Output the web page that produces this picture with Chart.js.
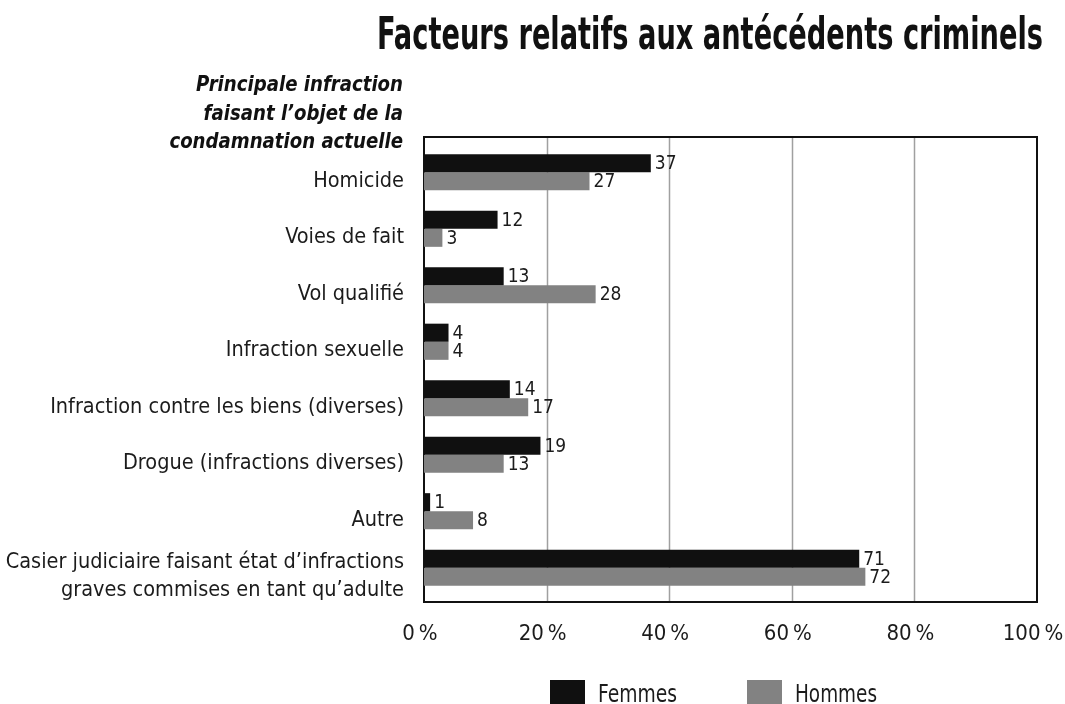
<!DOCTYPE html>
<html>
<head>
<meta charset="utf-8">
<script src="https://cdn.jsdelivr.net/npm/chart.js@4/dist/chart.umd.min.js"></script>
<style>
  html, body { margin: 0; padding: 0; background: #ffffff; }
  #wrap { width: 1065px; height: 704px; }
</style>
</head>
<body>
<div id="wrap"><canvas id="c" width="1065" height="704"></canvas></div>
<script>
const titleText = 'Facteurs relatifs aux antécédents criminels';
const subtitleLines = ['Principale infraction', 'faisant l’objet de la', 'condamnation actuelle'];
const categories = [
  'Homicide',
  'Voies de fait',
  'Vol qualifié',
  'Infraction sexuelle',
  'Infraction contre les biens (diverses)',
  'Drogue (infractions diverses)',
  'Autre',
  ['Casier judiciaire faisant état d’infractions', 'graves commises en tant qu’adulte']
];
const seriesNames = ['Femmes', 'Hommes'];
const femmes = [37, 12, 13, 4, 14, 19, 1, 71];
const hommes = [27, 3, 28, 4, 17, 13, 8, 72];
const xTickValues = [0, 20, 40, 60, 80, 100];
const seriesColors = ['#101010', '#828282'];

const FONT = '"DejaVu Sans Condensed", "Liberation Sans Narrow", "Arial Narrow", sans-serif';
const TEXT = '#1b1b1b';

const decorPlugin = {
  id: 'decor',
  beforeDatasetsDraw(chart) {
    const ctx = chart.ctx;
    const xs = chart.scales.x;
    const a = chart.chartArea;
    const top = a.top - 7, bottom = a.bottom + 6;
    ctx.save();
    ctx.strokeStyle = '#a0a0a0';
    ctx.lineWidth = 1.5;
    xTickValues.slice(1, -1).forEach(v => {
      const px = Math.round(xs.getPixelForValue(v)) + 0.5;
      ctx.beginPath();
      ctx.moveTo(px, top);
      ctx.lineTo(px, bottom);
      ctx.stroke();
    });
    ctx.strokeStyle = '#111';
    ctx.lineWidth = 2;
    ctx.strokeRect(a.left, top, a.right - a.left, bottom - top);
    ctx.restore();
  },
  afterDatasetsDraw(chart) {
    const ctx = chart.ctx;
    ctx.save();
    ctx.fillStyle = TEXT;
    ctx.font = '19px ' + FONT;
    ctx.textAlign = 'left';
    ctx.textBaseline = 'middle';
    chart.data.datasets.forEach((ds, i) => {
      const meta = chart.getDatasetMeta(i);
      meta.data.forEach((bar, j) => {
        ctx.fillText(String(ds.data[j]), bar.x + 4, bar.y + 1);
      });
    });
    // Title
    ctx.font = 'bold 44px ' + FONT;
    ctx.textAlign = 'right';
    ctx.textBaseline = 'alphabetic';
    ctx.fillStyle = '#111';
    ctx.fillText(titleText, 1043, 49, 666);
    // Subtitle (bold italic, condensed to the reference width)
    ctx.font = 'italic bold 22px ' + FONT;
    const base = ctx.measureText(subtitleLines[0]).width;
    const sx = 207 / base;
    [91, 119.5, 148].forEach((y, k) => {
      ctx.save();
      ctx.textAlign = 'right';
      ctx.translate(403, y);
      ctx.scale(sx, 1);
      ctx.fillText(subtitleLines[k], 0, 0);
      ctx.restore();
    });
    // Legend
    ctx.font = '24px ' + FONT;
    ctx.textAlign = 'left';
    const legendX = [550, 747];
    const legendW = [79, 82];
    chart.data.datasets.forEach((ds, i) => {
      const lx = legendX[i];
      ctx.fillStyle = ds.backgroundColor;
      ctx.fillRect(lx, 680, 35, 24);
      ctx.fillStyle = TEXT;
      ctx.fillText(ds.label, lx + 48, 702, legendW[i]);
    });
    ctx.restore();
  }
};

new Chart(document.getElementById('c'), {
  type: 'bar',
  data: {
    labels: categories,
    datasets: [
      { label: seriesNames[0], data: femmes, backgroundColor: seriesColors[0], borderWidth: 0 },
      { label: seriesNames[1], data: hommes, backgroundColor: seriesColors[1], borderWidth: 0 }
    ]
  },
  options: {
    indexAxis: 'y',
    responsive: false,
    animation: false,
    devicePixelRatio: 1,
    layout: { padding: { top: 144, right: 28, bottom: 0, left: 0 } },
    categoryPercentage: 0.64,
    barPercentage: 1.0,
    plugins: {
      legend: { display: false },
      title: { display: false },
      tooltip: { enabled: false }
    },
    scales: {
      x: {
        type: 'linear',
        min: 0,
        max: 100,
        afterBuildTicks: (s) => { s.ticks = xTickValues.map(v => ({ value: v })); },
        ticks: {
          callback: (v) => v + '\u202F%',
          font: { family: FONT, size: 22 },
          color: TEXT,
          padding: 25,
          labelOffset: -4,
          maxRotation: 0
        },
        grid: { display: false, drawTicks: false },
        border: { display: false },
        afterFit: (s) => { s.height = 108; s.paddingLeft = 0; s.paddingRight = 0; }
      },
      y: {
        ticks: {
          font: { family: FONT, size: 21.5, lineHeight: 1.3 },
          color: TEXT,
          padding: 20,
          labelOffset: 9,
          autoSkip: false
        },
        grid: { display: false, drawTicks: false },
        border: { display: false },
        afterFit: (s) => { s.width = 424; s.paddingTop = 0; s.paddingBottom = 0; }
      }
    }
  },
  plugins: [decorPlugin]
});
</script>
</body>
</html>
